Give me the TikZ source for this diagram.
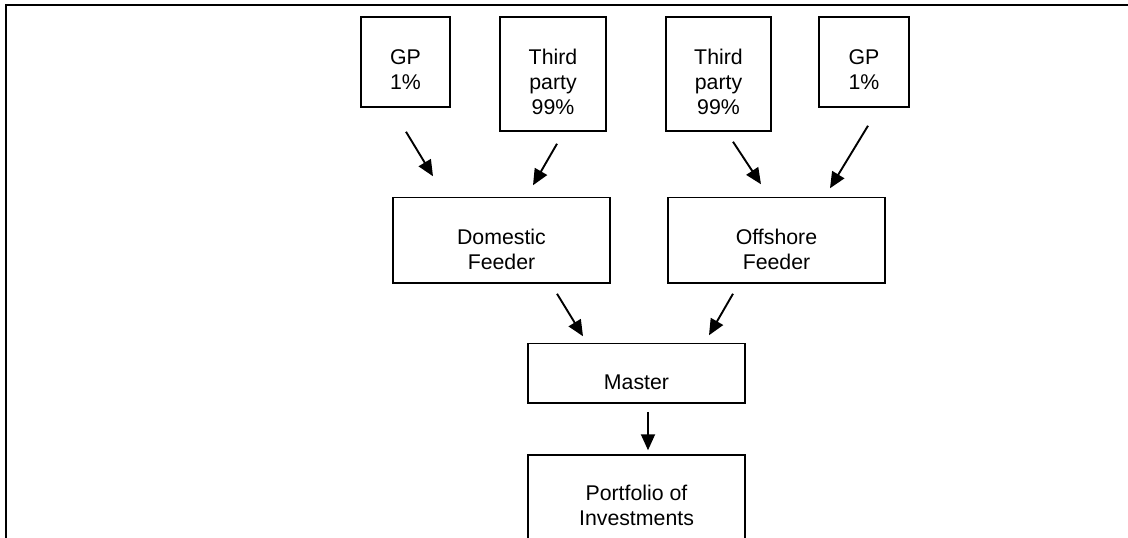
\documentclass[tikz,border=0pt]{standalone}
\usepackage{fontspec}
\setmainfont{Liberation Sans}
\usetikzlibrary{arrows.meta,calc}
\begin{document}
\begin{tikzpicture}[x=1pt,y=-1pt,
  box/.style={draw=black,line width=1.5pt,rectangle,inner sep=0pt},
  lbl/.style={align=center,inner sep=0pt,font=\fontsize{21.3}{25}\selectfont},
  arr/.style={line width=1.9pt,-{Triangle[length=16pt,width=14pt]}},
  frameline/.style={line width=2.4pt}]
\useasboundingbox (0,0) rectangle (1128,538);
\clip (0,0) rectangle (1128,538);
% frame
\coordinate (fbl) at (6,540);
\coordinate (ftl) at (6,5);
\coordinate (ftr) at (1130,5);
\draw[frameline] (fbl) -- (ftl) -- (ftr);
% boxes
\node[box,minimum width=89pt,minimum height=90pt] (gp1) at (405.5,62) {};
\node[box,minimum width=106pt,minimum height=114pt] (tp1) at (553,74) {};
\node[box,minimum width=105pt,minimum height=114pt] (tp2) at (718.5,74) {};
\node[box,minimum width=90pt,minimum height=90pt] (gp2) at (864,62) {};
\node[box,minimum width=217pt,minimum height=85.5pt] (dom) at (501.5,240.25) {};
\node[box,minimum width=217pt,minimum height=85.5pt] (off) at (776.5,240.25) {};
\node[box,minimum width=217pt,minimum height=59.5pt] (mas) at (636.5,373.25) {};
\node[box,minimum width=217pt,minimum height=130pt] (por) at (636.5,520) {};
% labels
\node[lbl] (gp1t) at (405.5,70) {GP\\1\%};
\node[lbl] (tp1t) at (553,82) {Third\\party\\99\%};
\node[lbl] (tp2t) at (718.5,82) {Third\\party\\99\%};
\node[lbl] (gp2t) at (864,70) {GP\\1\%};
\node[lbl] (domt) at (501.5,249) {Domestic\\Feeder};
\node[lbl] (offt) at (776.5,249) {Offshore\\Feeder};
\node[lbl] (mast) at (636.5,382) {Master};
\node[lbl] (port) at (636.5,505.5) {Portfolio of\\Investments};
% arrows
\draw[arr] ($(gp1.south)+(0.5,24)$) -- ($(dom.north)+(-68.5,-20.5)$);
\draw[arr] ($(tp1.south)+(4,12)$) -- ($(dom.north)+(31.5,-11.5)$);
\draw[arr] ($(tp2.south)+(14.5,10)$) -- ($(off.north)+(-15.5,-12.5)$);
\draw[arr] ($(gp2.south)+(4,18)$) -- ($(off.north)+(53.5,-8.5)$);
\draw[arr] ($(dom.south)+(55.5,10)$) -- ($(mas.north)+(-53.5,-6.5)$);
\draw[arr] ($(off.south)+(-43.5,10)$) -- ($(mas.north)+(72.5,-7.5)$);
\draw[arr] ($(mas.south)+(11.5,8)$) -- ($(por.north)+(11.5,-4)$);
\end{tikzpicture}
\end{document}
